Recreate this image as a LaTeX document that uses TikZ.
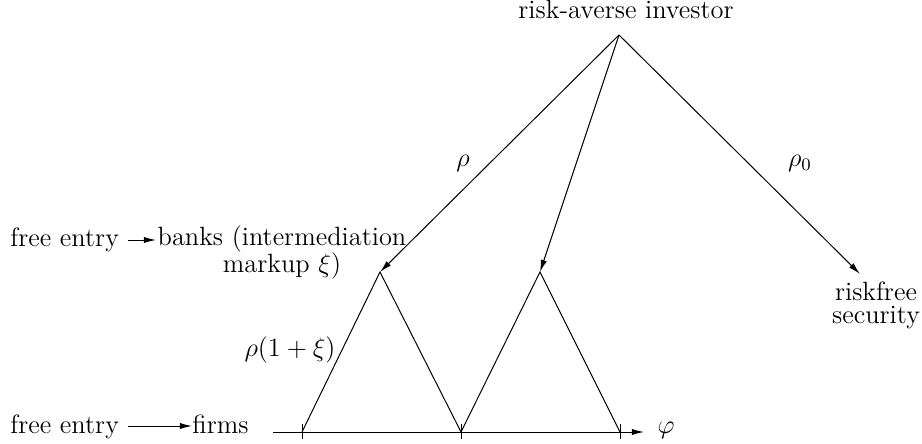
\documentclass[tikz,border=0pt]{standalone}
\usetikzlibrary{arrows.meta}
\begin{document}
\begin{tikzpicture}[x=0.4545pt,y=-0.4545pt,
  line/.style={line width=0.45pt},
  arr/.style={line width=0.45pt,-{Latex[length=5.5pt,width=2.8pt]}},
  lbl/.style={inner sep=0pt,font=\fontsize{12}{14}\selectfont}]
\useasboundingbox (0,0) rectangle (922,444);
% investor
\node[lbl,anchor=base] (inv) at (626,19) {risk-averse investor};
\coordinate (apex) at (619,35);
\coordinate (bankL) at (380,272);
\coordinate (bankR) at (540,272);
\coordinate (rf) at (860,274);
\draw[arr] (apex) -- (bankL);
\draw[arr] (apex) -- (bankR);
\draw[arr] (apex) -- (rf);
\node[lbl] (rho) at (463,163) {$\rho$};
\node[lbl] (rho0) at (800,163) {$\rho_0$};
\node[lbl,anchor=base] (rf1) at (876,301) {riskfree};
\node[lbl,anchor=base] (rf2) at (876,324) {security};
% banks
\node[lbl,anchor=base] (banks1) at (282,246) {banks (intermediation};
\node[lbl,anchor=base] (banks2) at (282,273) {markup $\xi$)};
\node[lbl,anchor=base west] (fe1) at (10,247) {free entry};
\coordinate (fe1s) at (128,240);
\coordinate (fe1e) at (156,240);
\draw[arr] (fe1s) -- (fe1e);
% axis and triangles
\coordinate (a0) at (273,432);
\coordinate (a1) at (644,432);
\coordinate (f1) at (302,432);
\coordinate (f2) at (461,432);
\coordinate (f3) at (620,432);
\draw[arr] (a0) -- (a1);
\node[lbl] (phi) at (666,430) {$\varphi$};
\foreach \p in {f1,f2,f3} \draw[line] ([yshift=-3pt]\p) -- ([yshift=3.5pt]\p);
\draw[line] (f1) -- (bankL) -- (f2) -- (bankR) -- (f3);
\node[lbl] (rx) at (290,350) {$\rho(1+\xi)$};
\node[lbl,anchor=base west] (fe2) at (10,433) {free entry};
\node[lbl,anchor=base west] (firms) at (192,433) {firms};
\coordinate (fe2s) at (128,426);
\draw[arr] (fe2s) -- (fe2s -| firms.west);
\end{tikzpicture}
\end{document}
